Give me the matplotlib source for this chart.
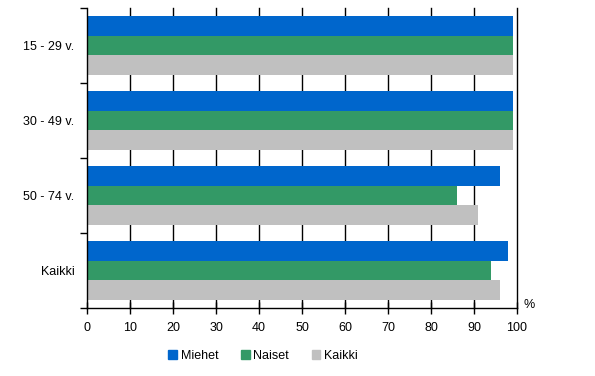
import numpy as np
import matplotlib.pyplot as plt
from matplotlib.patches import Patch

plt.rcParams['font.family'] = ['Liberation Sans', 'DejaVu Sans']
plt.rcParams['font.size'] = 9

# Data
groups = ['15 - 29 v.', '30 - 49 v.', '50 - 74 v.', 'Kaikki']
series = ['Miehet', 'Naiset', 'Kaikki']
miehet = [99, 99, 96, 98]
naiset = [99, 99, 86, 94]
kaikki = [99, 99, 91, 96]
colors = ['#0066CC', '#339966', '#C0C0C0']
xticks = list(range(0, 101, 10))

fig = plt.figure(figsize=(5.95, 3.76), dpi=100)
ax = fig.add_axes([87 / 595, 1 - 308 / 376, 430 / 595, 300 / 376])

y = np.arange(len(groups))
h = 0.26
for i, (vals, c) in enumerate(zip([miehet, naiset, kaikki], colors)):
    ax.barh(y + (i - 1) * h, vals, height=h, color=c, zorder=2)

ax.set_xlim(0, 100)
ax.set_ylim(len(groups) - 0.5, -0.5)
ax.set_xticks(xticks)
ax.set_xticklabels([str(t) for t in xticks])
for t in xticks[1:]:
    ax.axvline(t, color='black', lw=1, zorder=1, clip_on=False)

ax.set_yticks(y)
ax.set_yticklabels(groups)
ax.set_yticks(np.arange(len(groups) + 1) - 0.5, minor=True)
ax.tick_params(axis='y', which='major', length=0, pad=9)
ax.tick_params(axis='y', which='minor', direction='out', length=5, width=1)
ax.tick_params(axis='x', direction='inout', length=8, width=1, pad=6)

for s in ['top', 'right']:
    ax.spines[s].set_visible(False)
for s in ['left', 'bottom']:
    ax.spines[s].set_linewidth(1)

fig.text(524 / 595, 1 - 305 / 376, '%', ha='left', va='center')

handles = [Patch(color=c, label=s) for c, s in zip(colors, series)]
fig.legend(handles=handles, loc='center', bbox_to_anchor=(263 / 595, 1 - 356 / 376),
           ncol=3, frameon=False, handlelength=0.7, handleheight=0.7,
           handletextpad=0.3, columnspacing=1.8)

fig.savefig('out.png', dpi=100)
